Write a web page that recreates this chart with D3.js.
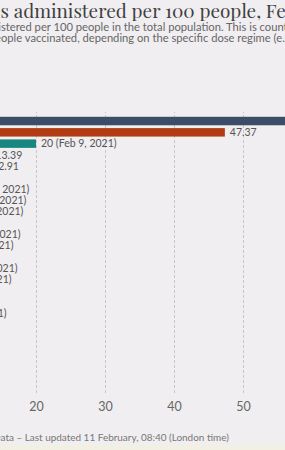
<!DOCTYPE html>
<head>
    <meta charset="utf-8">
    <script src="https://d3js.org/d3.v7.min.js"></script>
</head>
<body style="margin:0; background:#f0eef0">
    <div id="my_dataviz"></div>
    <script>
        // data (country names are off-screen to the left)
        var countries = ["Israel", "United Arab Emirates", "United Kingdom", "United States", "Bahrain",
            "Malta", "Serbia", "Chile", "Denmark", "Iceland", "Romania", "Slovenia", "Ireland", "Lithuania",
            "Spain", "Italy", "Portugal", "Poland", "Estonia", "Germany", "France", "Canada", "Turkey", "Brazil"];
        var values = [66.9, 47.37, 20, 13.39, 12.91, 10.6, 6.12, 5.68, 5.25, 4.96, 4.84, 4.70, 4.5, 4.41,
            3.54, 3.3, 3.1, 2.82, 2.5, 2.1, 1.8, 1.4, 1.1, 0.8];
        var dates = ["", "", "Feb 9, 2021", "", "", "", "Feb 9, 2021", "Feb 9, 2021", "Feb 9, 2021", "",
            "Feb 9, 2021", "Feb 9, 2021", "", "Feb 9, 2021", "Feb 9, 2021", "", "", "Feb 9, 2021",
            "", "", "", "", "", ""];
        var barColors = ["#3b4d67", "#b13b12", "#18877f"];
        var xTicks = [0, 10, 20, 30, 40, 50, 60];

        var title = "COVID-19 vaccine doses administered per 100 people, Feb 10, 2021";
        var subtitle1 = "Shown is the total number of vaccination doses administered per 100 people in the total population. This is counted as a single dose, and may not equal the total number of";
        var subtitle2 = "people vaccinated, depending on the specific dose regime (e.g. people receive multiple doses).";
        var footer = "Source: Official data collated by Our World in Data \u2013 Last updated 11 February, 08:40 (London time)";

        var width = 285, height = 450;

        var svg = d3.select("#my_dataviz")
            .append("svg")
            .attr("width", width)
            .attr("height", height)
            .style("display", "block");

        svg.append("rect").attr("width", width).attr("height", height).attr("fill", "#f0eef0");
        svg.append("rect").attr("y", 445).attr("width", width).attr("height", 5).attr("fill", "#f2f0e2");

        // place a long text so that the part `part` starts at x0 (the rest is cut by the page edge);
        // if x1 is given, the font is sized so that `part` ends at x1
        function clippedText(full, part, x0, x1, y, size, family, color) {
            var t = svg.append("text")
                .attr("y", y)
                .style("font-family", family)
                .style("font-size", size + "px")
                .style("fill", color)
                .text(full);
            var idx = full.indexOf(part);
            if (x1) {
                size = size * (x1 - x0) / t.node().getSubStringLength(idx, part.length);
                t.style("font-size", size + "px");
            }
            var pos = t.node().getStartPositionOfChar(idx).x;
            t.attr("x", x0 - pos);
            return size;
        }

        clippedText(title, "s administered per 100 people, Fe", 0.5, 286, 17.5, 20,
            "'Playfair Display', 'Liberation Serif', serif", "#3f3f3f");
        var subSize = clippedText(subtitle1, "stered per 100 people in the total population. This is coun",
            1, 284, 30.5, 10.5, "Lato, sans-serif", "#666");
        clippedText(subtitle2, "ople vaccinated", 1, 0, 42, subSize, "Lato, sans-serif", "#666");

        // scales
        var x = d3.scaleLinear()
            .domain([0, 50])
            .range([-102, 243]);

        var step = 11.3;
        var y = d3.scaleBand()
            .domain(countries)
            .range([116.8, 116.8 + step * (countries.length - 0.25)])
            .paddingInner(0.25)
            .paddingOuter(0);

        // grid + tick labels
        var xAxis = svg.append("g")
            .attr("transform", "translate(0,393)")
            .call(d3.axisBottom(x).tickValues(xTicks).tickSize(-281).tickPadding(9));
        xAxis.select(".domain").remove();
        xAxis.selectAll(".tick line")
            .attr("stroke", "#c8c6c8")
            .attr("stroke-dasharray", "3,2");
        xAxis.selectAll(".tick text")
            .style("font-family", "Lato, sans-serif")
            .style("font-size", "12.5px")
            .style("fill", "#666");

        // bars
        svg.selectAll("rect.bar")
            .data(countries)
            .enter()
            .append("rect")
            .attr("class", "bar")
            .attr("x", x(0))
            .attr("y", function (d) { return y(d); })
            .attr("height", y.bandwidth())
            .attr("width", function (d, i) { return x(values[i]) - x(0); })
            .attr("fill", function (d, i) { return barColors[i] || "#3b4d67"; });

        // country names (left of the axis, off the page)
        svg.selectAll("text.name")
            .data(countries)
            .enter()
            .append("text")
            .attr("class", "name")
            .attr("x", x(0) - 5)
            .attr("y", function (d) { return y(d) + y.bandwidth() / 2; })
            .attr("dy", "0.35em")
            .attr("text-anchor", "end")
            .style("font-family", "Lato, sans-serif")
            .style("font-size", "10.5px")
            .style("fill", "#555")
            .text(function (d) { return d; });

        // value labels
        svg.selectAll("text.value")
            .data(countries)
            .enter()
            .append("text")
            .attr("class", "value")
            .attr("x", function (d, i) { return x(values[i]) + 5; })
            .attr("y", function (d) { return y(d) + y.bandwidth() / 2; })
            .attr("dy", "0.35em")
            .style("font-family", "Lato, sans-serif")
            .style("font-size", "10.5px")
            .style("fill", "#555")
            .text(function (d, i) { return values[i] + (dates[i] ? " (" + dates[i] + ")" : ""); });

        clippedText(footer, "ata \u2013 Last updated 11 February, 08:40 (London time)", 0.5, 229, 441, 10,
            "Lato, sans-serif", "#777");
    </script>
</body>
</html>
